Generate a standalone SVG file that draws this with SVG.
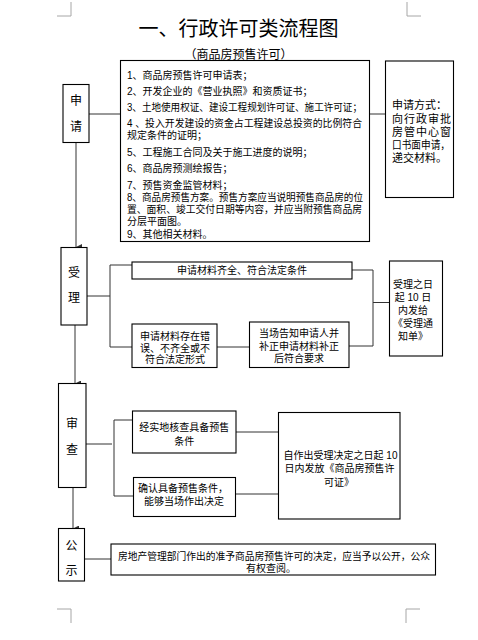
<svg xmlns="http://www.w3.org/2000/svg" width="478" height="640" viewBox="0 0 478 640">
<style>
text{font-family:"Liberation Sans","Noto Sans CJK SC",sans-serif;fill:#000;}
.t10{font-size:10px;}
.t11{font-size:11px;}
.t12{font-size:12px;}
.c{text-anchor:middle;}
.box{fill:#fff;stroke:#000;stroke-width:1.1;}
.ln{fill:none;stroke:#333;stroke-width:1;}
.corner{fill:none;stroke:#a6a6a6;stroke-width:1;}
</style>
<defs>
<marker id="arr" markerUnits="userSpaceOnUse" markerWidth="6" markerHeight="6" refX="3" refY="6" orient="auto-start-reverse" viewBox="0 0 6 6">
<path d="M0,0 L6,0 L3,6 Z" fill="#333"/>
</marker>
</defs>
<rect width="478" height="640" fill="#fff"/>
<g id="corners">
<path class="corner" d="M57,16 H71 V2"/>
<path class="corner" d="M421,16 H407 V2"/>
<path class="corner" d="M57,609 H71 V623"/>
<path class="corner" d="M420,609 H406 V623"/>
</g>
<g id="title">
<text x="238.5" y="36" class="c" style="font-size:20px">一、行政许可类流程图</text>
<text x="238.5" y="59" class="c t12">（商品房预售许可）</text>
</g>
<g id="connectors">
<path class="ln" d="M89,114 H120.5"/>
<path class="ln" d="M369.5,114 H385.5"/>
<path class="ln" d="M76,142 V247" marker-end="url(#arr)"/>
<path class="ln" d="M87,296 H110"/>
<path class="ln" d="M110,265 V347"/>
<path class="ln" d="M110,265 H132"/>
<path class="ln" d="M110,347 H132"/>
<path class="ln" d="M217,347 H249.5"/>
<path class="ln" d="M352,270 H373 V346 H349"/>
<path class="ln" d="M373,302.5 H389.5"/>
<path class="ln" d="M75,325 V383.5" marker-end="url(#arr)"/>
<path class="ln" d="M86,444 H112"/>
<path class="ln" d="M114,420 V496"/>
<path class="ln" d="M114,420 H132.5"/>
<path class="ln" d="M114,496 H133.5"/>
<path class="ln" d="M236,432 H278.5"/>
<path class="ln" d="M235.5,494 H278.5"/>
<path class="ln" d="M73,487.5 V528.5" marker-end="url(#arr)"/>
<path class="ln" d="M84.5,559 H111"/>
</g>
<g id="node-shenqing">
<rect class="box" x="63" y="84.5" width="26" height="58"/>
<text x="76" y="104.6" class="c t12">申</text>
<text x="76" y="131.3" class="c t12">请</text>
</g>
<g id="node-materials">
<rect class="box" x="120.5" y="60.5" width="249" height="181"/>
<text class="t10" x="127" y="78.8">1、商品房预售许可申请表；</text>
<text class="t10" x="127" y="94.8">2、开发企业的《营业执照》和资质证书；</text>
<text class="t10" x="127" y="111.3" textLength="235" lengthAdjust="spacingAndGlyphs">3、土地使用权证、建设工程规划许可证、施工许可证；</text>
<text class="t10" x="127" y="127.3" textLength="235" lengthAdjust="spacingAndGlyphs">4 、投入开发建设的资金占工程建设总投资的比例符合</text>
<text class="t10" x="127" y="139.3">规定条件的证明；</text>
<text class="t10" x="127" y="155.5">5、工程施工合同及关于施工进度的说明；</text>
<text class="t10" x="127" y="171.5">6、商品房预测绘报告；</text>
<text class="t10" x="127" y="188.8">7、预售资金监管材料；</text>
<text class="t10" x="127" y="200.8" textLength="236" lengthAdjust="spacingAndGlyphs">8、商品房预售方案。预售方案应当说明预售商品房的位</text>
<text class="t10" x="127" y="213" textLength="235" lengthAdjust="spacingAndGlyphs">置、面积、竣工交付日期等内容，并应当附预售商品房</text>
<text class="t10" x="127" y="224.8">分层平面图。</text>
<text class="t10" x="127" y="237.8">9、其他相关材料。</text>
</g>
<g id="node-method">
<rect class="box" x="385.5" y="61" width="68" height="136.5"/>
<text class="t11" x="392" y="109">申请方式：</text>
<text class="t11" x="392" y="123" textLength="59" lengthAdjust="spacing">向行政审批</text>
<text class="t11" x="392" y="136.3" textLength="59" lengthAdjust="spacing">房管中心窗</text>
<text class="t11" x="392" y="149" textLength="58" lengthAdjust="spacingAndGlyphs">口书面申请，</text>
<text class="t11" x="392" y="162.3">递交材料。</text>
</g>
<g id="node-shouli">
<rect class="box" x="61" y="247.5" width="26" height="77.5"/>
<text x="74" y="276.6" class="c t12">受</text>
<text x="74" y="302.3" class="c t12">理</text>
</g>
<g id="node-complete">
<rect class="box" x="132" y="262" width="220" height="17"/>
<text class="t10 c" x="242" y="274">申请材料齐全、符合法定条件</text>
</g>
<g id="node-incomplete">
<rect class="box" x="132" y="324" width="85" height="43.5"/>
<text class="t10 c" x="175" y="340">申请材料存在错</text>
<text class="t10 c" x="175" y="351.6">误、不齐全或不</text>
<text class="t10 c" x="175" y="363.2">符合法定形式</text>
</g>
<g id="node-notify">
<rect class="box" x="249.5" y="322" width="99.5" height="45.5"/>
<text class="t10 c" x="299" y="336.8">当场告知申请人并</text>
<text class="t10 c" x="299" y="349.8">补正申请材料补正</text>
<text class="t10 c" x="299" y="362.3">后符合要求</text>
</g>
<g id="node-receipt">
<rect class="box" x="389.5" y="261" width="53" height="95"/>
<text class="t10 c" x="413" y="288">受理之日</text>
<text class="t10 c" x="413" y="301">起 10 日</text>
<text class="t10 c" x="413" y="314">内发给</text>
<text class="t10 c" x="413" y="327">《受理通</text>
<text class="t10 c" x="413" y="340">知单》</text>
</g>
<g id="node-shencha">
<rect class="box" x="58.5" y="383.5" width="27.5" height="104"/>
<text x="72" y="427.9" class="c t12">审</text>
<text x="72" y="453.6" class="c t12">查</text>
</g>
<g id="node-verify">
<rect class="box" x="132.5" y="411" width="103.5" height="42"/>
<text class="t10 c" x="184.2" y="430.5">经实地核查具备预售</text>
<text class="t10 c" x="184.2" y="444.5">条件</text>
</g>
<g id="node-confirm">
<rect class="box" x="133.5" y="477.5" width="102" height="39"/>
<text class="t10 c" x="183" y="492">确认具备预售条件，</text>
<text class="t10 c" x="184" y="504.5">能够当场作出决定</text>
</g>
<g id="node-issue">
<rect class="box" x="278.5" y="412.5" width="121.5" height="106.5"/>
<text class="t10 c" x="340.5" y="458.8">自作出受理决定之日起 10</text>
<text class="t10 c" x="339.5" y="472">日内发放《商品房预售许</text>
<text class="t10 c" x="339" y="485.5">可证》</text>
</g>
<g id="node-gongshi">
<rect class="box" x="58.5" y="528.5" width="26" height="52.5"/>
<text x="71.5" y="549.6" class="c t12">公</text>
<text x="71.5" y="574.6" class="c t12">示</text>
</g>
<g id="node-public">
<rect class="box" x="111" y="544" width="324.5" height="31"/>
<text class="t10 c" x="274" y="559.5" textLength="312" lengthAdjust="spacingAndGlyphs">房地产管理部门作出的准予商品房预售许可的决定，应当予以公开，公众</text>
<text class="t10 c" x="271" y="572">有权查阅。</text>
</g>
</svg>
